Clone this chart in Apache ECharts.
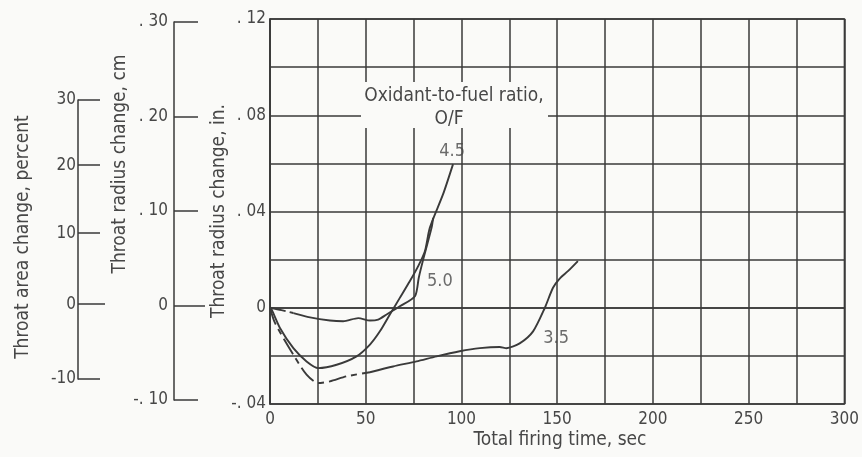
<!DOCTYPE html>
<html>
<head>
<meta charset="utf-8">
<script src="https://cdn.jsdelivr.net/npm/echarts@6/dist/echarts.min.js"></script>
<style>
html,body{margin:0;padding:0;background:#fafaf8;}
#c{width:862px;height:457px;}
</style>
</head>
<body>
<div id="c"></div>
<script>
// ---- data (time in sec, throat radius change in inches) ----
const time45   = [0, 0.9, 5.2, 12.2, 19.1, 25.2, 34.8, 45.2, 52.2, 57.4, 62.6, 67.8, 73.0, 77.4, 80.9, 83.5, 90.4, 95.6];
const radius45 = [0, -0.0008, -0.0084, -0.0168, -0.0223, -0.0251, -0.0237, -0.0202, -0.0153, -0.0098, -0.0028, 0.0041, 0.0110, 0.0173, 0.0235, 0.0333, 0.0472, 0.0597];

const time50dash   = [0, 6.0, 12.2];
const radius50dash = [0, -0.0010, -0.0022];
const time50   = [12.2, 20.9, 31.3, 38.2, 46.1, 52.2, 56.5, 60.9, 67.8, 75.7, 77.7, 80.0, 84.4, 85.2];
const radius50 = [-0.0022, -0.0040, -0.0053, -0.0056, -0.0043, -0.0053, -0.0049, -0.0028, 0.0006, 0.0048, 0.0125, 0.0200, 0.0333, 0.0374];

const time35dash   = [0, 2.6, 12.2, 19.1, 25.2, 31.3, 40.0, 52.2];
const radius35dash = [0, -0.0063, -0.0195, -0.0278, -0.0313, -0.0306, -0.0285, -0.0268];
const time35   = [52.2, 64.3, 76.5, 87.0, 99.1, 109.6, 120.0, 123.5, 130.4, 137.4, 143.5, 147.8, 151.3, 155.6, 160.8];
const radius35 = [-0.0268, -0.0244, -0.0223, -0.0202, -0.0181, -0.0168, -0.0163, -0.0168, -0.0148, -0.0098, -0.0001, 0.0083, 0.0121, 0.0152, 0.0194];

// curve labels: [time, radius, text]
const curveLabels = [[95.1, 0.0652, '4.5'], [88.7, 0.0110, '5.0'], [149.4, -0.0126, '3.5']];

// ---- tick labels ----
const xTicks = [0, 50, 100, 150, 200, 250, 300];
const xTickLabels = ['0', '50', '100', '150', '200', '250', '300'];
const inTicks = [-0.04, 0, 0.04, 0.08, 0.12];
const inTickLabels = ['-. 04', '0', '. 04', '. 08', '. 12'];
const cmTicks = [-0.10, 0, 0.10, 0.20, 0.30];
const cmTickLabels = ['-. 10', '0', '. 10', '. 20', '. 30'];
const pctTicks = [-10, 0, 10, 20, 30];
const pctTickLabels = ['-10', '0', '10', '20', '30'];

// area change (percent) -> relative radius change
const pctToRel = p => Math.sqrt(1 + p / 100) - 1;
const pctPos = pctTicks.map(pctToRel);

const zip = (a, b) => a.map((v, i) => [v, b[i]]);
const lookup = (vals, labels) => v => {
  const i = vals.findIndex(t => Math.abs(t - v) < 1e-7);
  return i >= 0 ? labels[i] : '';
};

const FONT = "'Liberation Sans Narrow','DejaVu Sans Condensed','Roboto Condensed',Roboto,sans-serif";
const TXT = '#474747';
const LN = '#3a3a3a';
const TICK_FS = 17;
const TITLE_FS = 19;

const chart = echarts.init(document.getElementById('c'));
const lineBase = {type: 'line', xAxisIndex: 0, yAxisIndex: 0, showSymbol: false, symbol: 'none', smooth: 0.25, z: 5};

chart.setOption({
  backgroundColor: '#fafaf8',
  animation: false,
  textStyle: {fontFamily: FONT, color: TXT},
  grid: [
    {left: 270, top: 19, width: 575, height: 385, show: true, borderColor: LN, borderWidth: 1.5, backgroundColor: 'transparent'},
    {left: 174, top: 22, width: 40, height: 378},
    {left: 78, top: 100, width: 40, height: 279}
  ],
  xAxis: [
    {gridIndex: 0, type: 'value', min: 0, max: 300, interval: 25,
     axisLine: {show: true, lineStyle: {color: LN, width: 1.5}},
     axisTick: {show: false},
     axisLabel: {customValues: xTicks, formatter: lookup(xTicks, xTickLabels), margin: 7, fontSize: TICK_FS, color: TXT, fontFamily: FONT},
     splitLine: {show: true, lineStyle: {color: LN, width: 1.5}}},
    {gridIndex: 1, type: 'value', min: 0, max: 1, show: false},
    {gridIndex: 2, type: 'value', min: 0, max: 1, show: false}
  ],
  yAxis: [
    {gridIndex: 0, type: 'value', min: -0.04, max: 0.12, interval: 0.02,
     axisLine: {show: true, lineStyle: {color: LN, width: 1.5}},
     axisTick: {show: false},
     axisLabel: {customValues: inTicks, formatter: lookup(inTicks, inTickLabels), margin: 4, fontSize: TICK_FS, color: TXT, fontFamily: FONT},
     splitLine: {show: true, lineStyle: {color: LN, width: 1.5}}},
    {gridIndex: 1, type: 'value', position: 'left', min: -0.10, max: 0.30,
     axisLine: {show: true, lineStyle: {color: LN, width: 1.5}},
     axisTick: {show: true, inside: true, length: 24, customValues: cmTicks, lineStyle: {color: LN, width: 1.5}},
     axisLabel: {customValues: cmTicks, formatter: lookup(cmTicks, cmTickLabels), margin: 6, fontSize: TICK_FS, color: TXT, fontFamily: FONT},
     splitLine: {show: false}},
    {gridIndex: 1, type: 'value', position: 'left', min: -0.10, max: 0.30,
     axisLine: {show: false},
     axisTick: {show: true, inside: true, length: 31, customValues: [0], lineStyle: {color: LN, width: 1.5}},
     axisLabel: {show: false}, splitLine: {show: false}},
    {gridIndex: 2, type: 'value', position: 'left', min: pctToRel(-10), max: pctToRel(30),
     axisLine: {show: true, lineStyle: {color: LN, width: 1.5}},
     axisTick: {show: true, inside: true, length: 22, customValues: pctPos, lineStyle: {color: LN, width: 1.5}},
     axisLabel: {customValues: pctPos, formatter: lookup(pctPos, pctTickLabels), margin: 2, fontSize: TICK_FS, color: TXT, fontFamily: FONT},
     splitLine: {show: false}},
    {gridIndex: 2, type: 'value', position: 'left', min: pctToRel(-10), max: pctToRel(30),
     axisLine: {show: false},
     axisTick: {show: true, inside: true, length: 27, customValues: [0], lineStyle: {color: LN, width: 1.5}},
     axisLabel: {show: false}, splitLine: {show: false}}
  ],
  series: [
    Object.assign({}, lineBase, {name: '4.5', data: zip(time45, radius45), lineStyle: {color: LN, width: 1.9}}),
    Object.assign({}, lineBase, {name: '5.0 start', data: zip(time50dash, radius50dash), lineStyle: {color: LN, width: 1.9, type: [16, 4]}}),
    Object.assign({}, lineBase, {name: '5.0', data: zip(time50, radius50), lineStyle: {color: LN, width: 1.9}}),
    Object.assign({}, lineBase, {name: '3.5 start', data: zip(time35dash, radius35dash), lineStyle: {color: LN, width: 1.9, type: [18, 5, 6, 5]}}),
    Object.assign({}, lineBase, {name: '3.5', data: zip(time35, radius35), lineStyle: {color: LN, width: 1.9}}),
    {type: 'scatter', xAxisIndex: 0, yAxisIndex: 0, symbolSize: 0, z: 6,
     data: curveLabels,
     label: {show: true, position: 'inside', formatter: p => p.data[2], fontSize: 18, color: TXT, fontFamily: FONT}}
  ],
  graphic: [
    {type: 'rect', z: 50, shape: {x: 361, y: 82, width: 187, height: 46}, style: {fill: '#fafaf8'}},
    {type: 'text', z: 51, x: 454, y: 96, style: {text: 'Oxidant-to-fuel ratio,', fontSize: TITLE_FS, fontFamily: FONT, fill: TXT, align: 'center', verticalAlign: 'middle'}},
    {type: 'text', z: 51, x: 449, y: 119, style: {text: 'O/F', fontSize: TITLE_FS, fontFamily: FONT, fill: TXT, align: 'center', verticalAlign: 'middle'}},
    {type: 'text', z: 51, x: 560, y: 440, style: {text: 'Total firing time, sec', fontSize: TITLE_FS, fontFamily: FONT, fill: TXT, align: 'center', verticalAlign: 'middle'}},
    {type: 'text', z: 51, x: 219, y: 211, rotation: Math.PI / 2, style: {text: 'Throat radius change, in.', fontSize: TITLE_FS, fontFamily: FONT, fill: TXT, align: 'center', verticalAlign: 'middle'}},
    {type: 'text', z: 51, x: 120, y: 164, rotation: Math.PI / 2, style: {text: 'Throat radius change, cm', fontSize: TITLE_FS, fontFamily: FONT, fill: TXT, align: 'center', verticalAlign: 'middle'}},
    {type: 'text', z: 51, x: 23, y: 237, rotation: Math.PI / 2, style: {text: 'Throat area change, percent', fontSize: TITLE_FS, fontFamily: FONT, fill: TXT, align: 'center', verticalAlign: 'middle'}}
  ]
});
</script>
</body>
</html>
